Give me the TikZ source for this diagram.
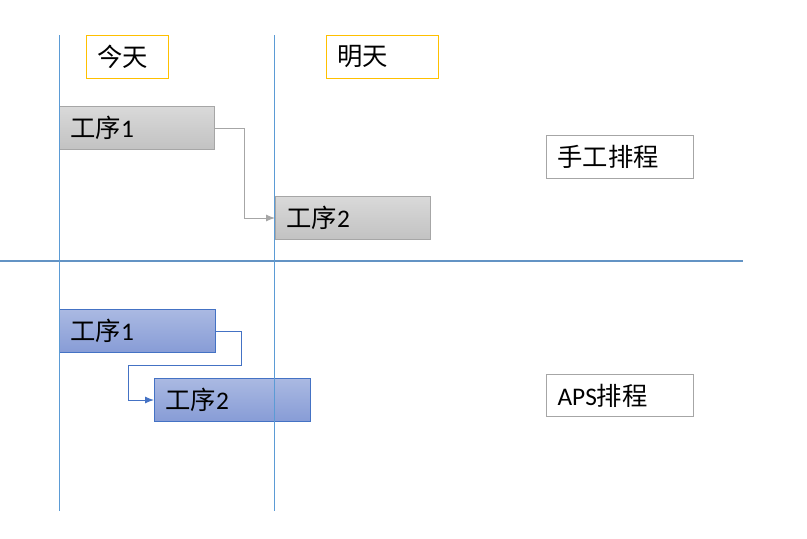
\documentclass[tikz,border=0pt]{standalone}
\usepackage{fontspec}
\setmainfont{Carlito}
\newfontfamily\cjk{Noto Sans CJK SC}
\usetikzlibrary{arrows.meta}
\definecolor{vline}{HTML}{5B9BD5}
\definecolor{hline}{HTML}{6393C4}
\definecolor{orangeb}{HTML}{FFC000}
\definecolor{grayb}{HTML}{A6A6A6}
\definecolor{graytop}{HTML}{D9D9D9}
\definecolor{graybot}{HTML}{C2C2C2}
\definecolor{blueb}{HTML}{4472C4}
\definecolor{bluetop}{HTML}{AAB9E2}
\definecolor{bluebot}{HTML}{879CD6}
\tikzset{
  lbl/.style={font=\fontsize{19}{22}\selectfont, anchor=north west, align=left,
    inner xsep=8.25pt, inner ysep=0pt, minimum height=32.25pt},
  daybox/.style={lbl, draw=orangeb, line width=0.75pt},
  modebox/.style={lbl, draw=grayb, line width=0.75pt},
  graytask/.style={lbl, draw=grayb, line width=0.75pt, top color=graytop, bottom color=graybot,
    text width=99.75pt},
  bluetask/.style={lbl, draw=blueb, line width=0.75pt, top color=bluetop, bottom color=bluebot,
    text width=100.5pt},
  grayarrow/.style={draw=grayb, line width=0.75pt, -{Latex[length=6.75pt,width=5.25pt]}},
  bluearrow/.style={draw=blueb, line width=0.75pt, -{Latex[length=6.75pt,width=5.25pt]}},
  dayline/.style={draw=vline, line width=0.75pt},
  sepline/.style={draw=hline, line width=0.9pt}
}
\begin{document}
\begin{tikzpicture}[x=0.75pt, y=-0.75pt]
\useasboundingbox (0,0) rectangle (807,539);
% day labels
\node[daybox, text width=45pt] (today) at (86,35) {\cjk 今天};
\node[daybox, text width=67.5pt] (tomorrow) at (326,35) {\cjk 明天};
% manual scheduling
\node[graytask] (g1) at (59,106) {{\cjk 工序}1};
\node[graytask] (g2) at (275,196) {{\cjk 工序}2};
\draw[grayarrow] (g1.east) -- ++(29,0) |- (g2.west);
\node[modebox, text width=93.75pt] (manual) at (546,135) {\cjk 手工排程};
% separator
\coordinate (sl) at (0,261);
\coordinate (sr) at (743,261);
\draw[sepline] (sl) -- (sr);
% APS scheduling
\node[bluetask] (b1) at (59,309) {{\cjk 工序}1};
\node[bluetask] (b2) at (154,378) {{\cjk 工序}2};
\coordinate (bturn) at (128,365);
\draw[bluearrow] (b1.east) -- ++(25,0) |- (bturn) |- (b2.west);
\node[modebox, text width=93.75pt, minimum height=31.5pt] (aps) at (546,374) {APS{\cjk 排程}};
% day lines
\coordinate (d1t) at (59,35);
\coordinate (d1b) at (59,511);
\coordinate (d2t) at (274,35);
\coordinate (d2b) at (274,511);
\draw[dayline] (d1t) -- (d1b);
\draw[dayline] (d2t) -- (d2b);
\end{tikzpicture}
\end{document}
